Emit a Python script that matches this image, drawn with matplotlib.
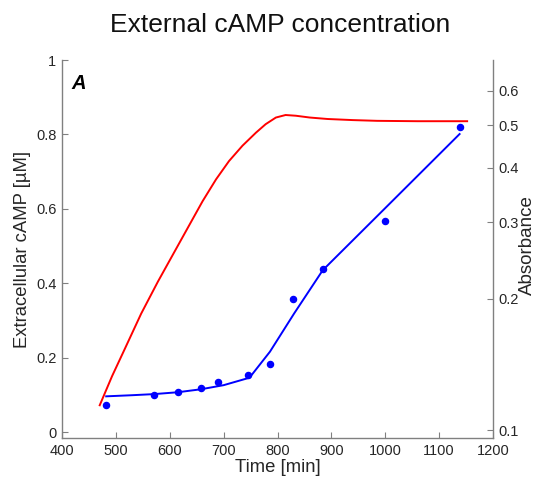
import matplotlib
matplotlib.use("Agg")
import matplotlib.pyplot as plt
from matplotlib.ticker import FixedLocator, NullLocator, FormatStrFormatter

plt.rcParams['font.family'] = ['Liberation Sans', 'DejaVu Sans']

# measured cAMP (dots) and fitted curve (blue line), left axis
camp_t = [482, 571, 615, 658, 690, 746, 787, 828, 885, 1000, 1138]
camp_obs = [0.072, 0.100, 0.108, 0.118, 0.134, 0.153, 0.182, 0.358, 0.439, 0.567, 0.821]
fit_t = [482, 530, 571, 615, 658, 700, 748, 786, 831, 884, 1000, 1138]
fit_camp = [0.096, 0.099, 0.102, 0.107, 0.115, 0.126, 0.146, 0.216, 0.319, 0.435, 0.602, 0.801]

# absorbance (red line), right axis, log scale
abs_t = [470, 493, 516, 547, 578, 621, 661, 686, 710, 735, 760, 778, 797, 815, 834,
         860, 893, 940, 985, 1060, 1152]
absorb = [0.114, 0.133, 0.153, 0.185, 0.219, 0.273, 0.335, 0.376, 0.414, 0.449, 0.481,
          0.503, 0.521, 0.528, 0.526, 0.521, 0.517, 0.514, 0.512, 0.511, 0.511]

fig = plt.figure(figsize=(5.37, 4.83), dpi=100)
ax = fig.add_axes([62 / 537, 45 / 483, 431 / 537, 378 / 483])
ax2 = ax.twinx()

ax.plot(fit_t, fit_camp, color='#0000ff', lw=1.4, zorder=3)
ax.plot(camp_t, camp_obs, 'o', color='#0000ff', ms=4.4, zorder=4)
ax2.plot(abs_t, absorb, color='#ff0000', lw=1.4)

ax.set_xlim(400, 1200)
ax.set_ylim(-0.016, 1.0)
ax2.set_yscale('log')
ax2.set_ylim(0.0959, 0.706)

ax.set_xticks([400, 500, 600, 700, 800, 900, 1000, 1100, 1200])
ax.set_yticks([0, 0.2, 0.4, 0.6, 0.8, 1])
ax.set_yticklabels(['0', '0.2', '0.4', '0.6', '0.8', '1'])
ax2.yaxis.set_major_locator(FixedLocator([0.1, 0.2, 0.3, 0.4, 0.5, 0.6]))
ax2.yaxis.set_minor_locator(NullLocator())
ax2.yaxis.set_major_formatter(FormatStrFormatter('%.1f'))

spine_col = '#808080'
for a in (ax, ax2):
    a.spines['top'].set_visible(False)
    for s in a.spines.values():
        s.set_color(spine_col)
        s.set_linewidth(1.0)
ax.spines['right'].set_visible(False)
ax2.spines['left'].set_visible(False)
ax2.spines['bottom'].set_visible(False)

ax.tick_params(axis='both', direction='in', length=4, color=spine_col,
               labelsize=10.5, labelcolor='#262626', pad=4)
ax2.tick_params(axis='y', direction='in', length=4, color=spine_col,
                labelsize=10.5, labelcolor='#262626', pad=4)

ax.set_xlabel('Time [min]', fontsize=13.3, color='#262626', labelpad=1)
ax.set_ylabel('Extracellular cAMP [\u00b5M]', fontsize=13.3, color='#262626', labelpad=4)
ax2.set_ylabel('Absorbance', fontsize=13.5, color='#262626')
ax2.yaxis.set_label_coords((519 - 62) / 431, 0.51)

ax.text(0.022, 0.962, 'A', transform=ax.transAxes, fontsize=14.5,
        fontweight='bold', fontstyle='italic', va='top', ha='left')

fig.text(280.5 / 537, (483 - 31.7) / 483, 'External cAMP concentration',
         ha='center', va='baseline', fontsize=19, color='#111111')

fig.savefig('out.png', dpi=100)
